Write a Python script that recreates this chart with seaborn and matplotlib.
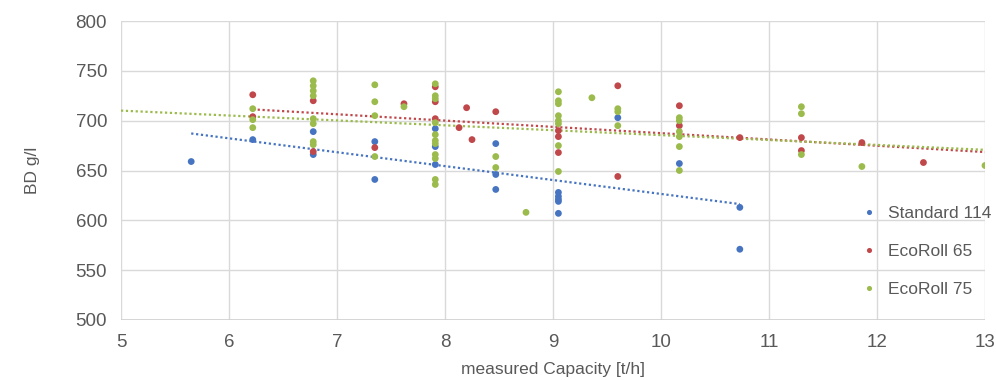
import numpy as np
import pandas as pd
import matplotlib
matplotlib.use("Agg")
import matplotlib.pyplot as plt
import seaborn as sns

# ---- data ----
series_names = ["Standard 114", "EcoRoll 65", "EcoRoll 75"]

std_x = [5.65, 6.22, 6.78, 6.78, 7.35, 7.35, 7.91, 7.91, 7.91, 8.47, 8.47, 8.47,
         9.05, 9.05, 9.05, 9.05, 9.05, 9.6, 10.17, 10.73, 10.73]
std_y = [659, 681, 689, 666, 679, 641, 692, 674, 656, 677, 646, 631,
         628, 624, 621, 619, 607, 703, 657, 613, 571]

eco65_x = [6.22, 6.22, 6.78, 6.78, 7.35, 7.62, 7.91, 7.91, 7.91, 8.13, 8.2, 8.25,
           8.47, 9.05, 9.05, 9.05, 9.6, 9.6, 10.17, 10.17, 10.73, 11.3, 11.3,
           11.86, 12.43]
eco65_y = [726, 704, 720, 669, 673, 717, 734, 719, 702, 693, 713, 681,
           709, 690, 684, 668, 735, 644, 715, 695, 683, 683, 670,
           678, 658]

eco75_x = [6.22, 6.22, 6.22, 6.78, 6.78, 6.78, 6.78, 6.78, 6.78, 6.78, 6.78,
           7.35, 7.35, 7.35, 7.35, 7.62,
           7.91, 7.91, 7.91, 7.91, 7.91, 7.91, 7.91, 7.91, 7.91, 7.91, 7.91,
           8.47, 8.47, 8.75,
           9.05, 9.05, 9.05, 9.05, 9.05, 9.05, 9.05, 9.05, 9.36,
           9.6, 9.6, 9.6, 10.17, 10.17, 10.17, 10.17, 10.17, 10.17,
           11.3, 11.3, 11.3, 11.86, 13.0]
eco75_y = [712, 701, 693, 740, 735, 730, 725, 702, 697, 679, 676,
           736, 719, 705, 664, 714,
           737, 725, 722, 698, 686, 680, 677, 666, 662, 641, 636,
           664, 653, 608,
           729, 720, 717, 705, 700, 697, 675, 649, 723,
           712, 709, 695, 703, 700, 689, 684, 674, 650,
           714, 707, 666, 654, 655]

trend_ranges = [(5.65, 10.73), (6.22, 13.0), (5.0, 13.0)]
x_ticks = [5, 6, 7, 8, 9, 10, 11, 12, 13]
y_ticks = [500, 550, 600, 650, 700, 750, 800]
colors = ["#4674C1", "#C0474A", "#9BBB4C"]

df = pd.concat([
    pd.DataFrame({"x": std_x, "y": std_y, "series": series_names[0]}),
    pd.DataFrame({"x": eco65_x, "y": eco65_y, "series": series_names[1]}),
    pd.DataFrame({"x": eco75_x, "y": eco75_y, "series": series_names[2]}),
])

sns.set_theme(style="white")
plt.rcParams["font.family"] = ["Liberation Sans", "DejaVu Sans"]

fig = plt.figure(figsize=(9.96, 3.8), dpi=100)
ax = fig.add_axes([121 / 996, 1 - 320 / 380, (985 - 121) / 996, (320 - 21) / 380])

# trendlines (linear fits), drawn first so points sit on top
for name, col, (x0, x1) in zip(series_names, colors, trend_ranges):
    sub = df[df["series"] == name]
    k, b = np.polyfit(sub["x"], sub["y"], 1)
    xs = np.array([x0, x1])
    ax.plot(xs, k * xs + b, linestyle=(0, (1, 1.2)), color=col, linewidth=1.6, zorder=2)

sns.scatterplot(data=df, x="x", y="y", hue="series", palette=colors,
                hue_order=series_names, s=24, linewidth=0, ax=ax, zorder=3)

ax.set_xlim(5, 13)
ax.set_ylim(500, 800)
ax.set_xticks(x_ticks)
ax.set_yticks(y_ticks)
ax.grid(True, color="#D9D9D9", linewidth=1)
for s in ax.spines.values():
    s.set_visible(False)
ax.axhline(500, color="#D0D0D0", linewidth=1.2, zorder=1)
ax.tick_params(axis="both", colors="#595959", labelsize=13.5, length=0, pad=10)
ax.set_xlabel("measured Capacity [t/h]", fontsize=12.5, color="#595959", labelpad=8)
ax.set_ylabel("BD g/l", fontsize=12.5, color="#595959", labelpad=26)

leg = ax.legend(loc="lower right", bbox_to_anchor=(1.025, 0.025), frameon=False,
                fontsize=12.5, labelspacing=1.3, handletextpad=0.1, markerscale=0.75)
for t in leg.get_texts():
    t.set_color("#595959")

fig.savefig("out.png", dpi=100)
